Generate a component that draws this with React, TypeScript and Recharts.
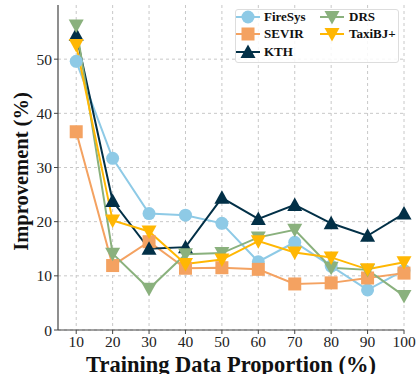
import { LineChart, Line, XAxis, YAxis, CartesianGrid } from 'recharts'

const proportions = [10, 20, 30, 40, 50, 60, 70, 80, 90, 100]
const fireSys = [49.6, 31.7, 21.5, 21.2, 19.7, 12.6, 16.2, 11.8, 7.4, 11.0]
const sevir = [36.6, 11.9, 16.3, 11.4, 11.5, 11.2, 8.5, 8.7, 9.6, 10.5]
const kth = [54.5, 23.8, 15.0, 15.3, 24.4, 20.5, 23.1, 19.7, 17.4, 21.5]
const drs = [56.2, 14.1, 7.6, 14.0, 14.2, 17.1, 18.5, 11.5, 11.1, 6.3]
const taxiBJ = [52.6, 20.2, 18.2, 12.2, 13.0, 16.4, 14.3, 13.4, 11.2, 12.5]
const yTicks = [0, 10, 20, 30, 40, 50]

const FONT = 'Liberation Serif, Times New Roman, serif'

type Shape = 'circle' | 'square' | 'up' | 'down'

const series: { key: string; name: string; color: string; shape: Shape; values: number[] }[] = [
  { key: 'fireSys', name: 'FireSys', color: '#8ECAE6', shape: 'circle', values: fireSys },
  { key: 'sevir', name: 'SEVIR', color: '#F4A261', shape: 'square', values: sevir },
  { key: 'kth', name: 'KTH', color: '#023047', shape: 'up', values: kth },
  { key: 'drs', name: 'DRS', color: '#8AB17D', shape: 'down', values: drs },
  { key: 'taxiBJ', name: 'TaxiBJ+', color: '#FFB703', shape: 'down', values: taxiBJ },
]

const data = proportions.map((p, i) => {
  const row: Record<string, number> = { p }
  series.forEach(s => { row[s.key] = s.values[i] })
  return row
})

function marker(shape: Shape, cx: number, cy: number, color: string, key?: string | number) {
  if (shape === 'circle') return <circle key={key} cx={cx} cy={cy} r={6.5} fill={color} />
  if (shape === 'square') return <rect key={key} x={cx - 6.5} y={cy - 6.5} width={13} height={13} fill={color} />
  const h = 7.5
  const pts = shape === 'up'
    ? `${cx},${cy - h} ${cx - h},${cy + h * 0.8} ${cx + h},${cy + h * 0.8}`
    : `${cx},${cy + h} ${cx - h},${cy - h * 0.8} ${cx + h},${cy - h * 0.8}`
  return <polygon key={key} points={pts} fill={color} />
}

function LegendBox() {
  const cols = [series.slice(0, 3), series.slice(3)]
  return (
    <div
      style={{
        position: 'absolute', left: 235, top: 9, width: 164, height: 54,
        border: '1px solid #ddd', borderRadius: 3, background: 'rgba(255,255,255,0.85)',
        fontFamily: FONT, fontWeight: 'bold', fontSize: 13, color: '#111',
        display: 'flex', boxSizing: 'border-box', padding: 0,
      }}
    >
      {cols.map((col, ci) => (
        <div key={ci} style={{ width: ci === 0 ? 84 : 78, marginTop: -2 }}>
          {col.map(s => (
            <div key={s.key} style={{ display: 'flex', alignItems: 'center', height: 17.5 }}>
              <svg width={24} height={16} style={{ flex: 'none' }}>
                <line x1={0} x2={24} y1={8} y2={8} stroke={s.color} strokeWidth={2} />
                {marker(s.shape, 12, 8, s.color)}
              </svg>
              <span style={{ marginLeft: ci === 0 ? 4 : 5 }}>{s.name}</span>
            </div>
          ))}
        </div>
      ))}
    </div>
  )
}

function YLabel(props: any) {
  const vb = props.viewBox || {}
  const cx = 21
  const cy = vb.y + vb.height / 2 + 4
  return (
    <text
      x={cx}
      y={cy}
      transform={`rotate(-90 ${cx} ${cy})`}
      textAnchor="middle"
      dominantBaseline="central"
      fontFamily={FONT}
      fontWeight="bold"
      fontSize={20.5}
      fill="#111"
    >
      Improvement (%)
    </text>
  )
}

export default function App() {
  return (
    <div style={{ position: 'absolute', left: 0, top: 0, width: 416, height: 374, background: '#fff', overflow: 'hidden' }}>
      <LineChart width={416} height={374} data={data} margin={{ top: 5, right: 12, left: 0, bottom: 0 }}>
        <CartesianGrid stroke="#c8c8c8" strokeDasharray="3 3" verticalValues={proportions} horizontalValues={yTicks} />
        <XAxis
          dataKey="p"
          type="number"
          domain={[5, 100]}
          ticks={proportions}
          height={44}
          axisLine={{ stroke: '#444', strokeWidth: 1.2 }}
          tickLine={{ stroke: '#444' }}
          tickSize={4}
          tick={{ fontFamily: FONT, fontSize: 15.5, fill: '#222' }}
          label={{ value: 'Training Data Proportion (%)', position: 'insideBottom', offset: 2, style: { fontFamily: FONT, fontWeight: 'bold', fontSize: 22.5, fill: '#111' } }}
        />
        <XAxis xAxisId="top" dataKey="p" type="number" domain={[5, 100]} orientation="top" height={0} tick={false} tickLine={false} axisLine={{ stroke: '#888', strokeWidth: 1.2 }} />
        <YAxis
          type="number"
          domain={[0, 60]}
          ticks={yTicks}
          width={58}
          axisLine={{ stroke: '#444', strokeWidth: 1.2 }}
          tickLine={{ stroke: '#444' }}
          tickSize={4}
          tick={{ fontFamily: FONT, fontSize: 15.5, fill: '#222' }}
          label={<YLabel />}
        />
        <YAxis yAxisId="right" orientation="right" domain={[0, 60]} width={0} tick={false} tickLine={false} axisLine={{ stroke: '#888', strokeWidth: 1.2 }} />
        {series.map(s => (
          <Line
            key={s.key}
            dataKey={s.key}
            name={s.name}
            stroke={s.color}
            strokeWidth={2}
            isAnimationActive={false}
            dot={(props: any) => marker(s.shape, props.cx, props.cy, s.color, props.index)}
            activeDot={false}
          />
        ))}
      </LineChart>
      <LegendBox />
    </div>
  )
}
